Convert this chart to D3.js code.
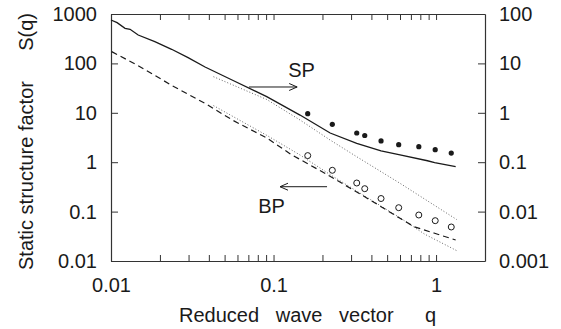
<!DOCTYPE html>
<html>
<head>
<meta charset="utf-8">
<script src="https://cdn.jsdelivr.net/npm/d3@7"></script>
<style>
  body { margin: 0; background: #fff; }
  svg { display: block; font-family: "Liberation Sans", Arial, Helvetica, sans-serif; }
</style>
</head>
<body>
<svg id="chart"></svg>
<script>
"use strict";

// data: q (reduced wave vector), S(q)
const spSim = [
  [0.01, 757], [0.0109, 667], [0.0122, 514], [0.0131, 490], [0.0147, 376],
  [0.0186, 275], [0.0236, 193], [0.0298, 131], [0.0379, 84.5], [0.0564, 45.1],
  [0.0908, 21.2], [0.1455, 9.0], [0.223, 3.9], [0.325, 2.41], [0.4586, 1.69],
  [0.60, 1.40], [0.885, 1.07], [0.98, 0.977], [1.32, 0.81]
];
const bpSim = [
  [0.0101, 173], [0.0147, 90], [0.0236, 36], [0.0379, 15.5], [0.0564, 7],
  [0.0908, 3.1], [0.1285, 1.43], [0.21, 0.58], [0.325, 0.25], [0.4586, 0.126],
  [0.60, 0.073], [0.733, 0.0494], [0.98, 0.0364], [1.32, 0.0266]
];
const spTheory = [
  [0.0427, 53.8], [0.0908, 18.6], [0.1455, 7.15], [0.223, 2.81],
  [0.325, 1.29], [0.60, 0.374], [1.34, 0.069]
];
const bpTheory = [
  [0.0427, 14], [0.0908, 3.5], [0.1455, 1.4], [0.223, 0.56],
  [0.325, 0.26], [0.60, 0.075], [0.85, 0.035], [1.34, 0.0162]
];
const qExp = [0.1623, 0.230, 0.325, 0.364, 0.4586, 0.589, 0.783, 0.988, 1.24];
const spExp = [9.6, 5.85, 3.9, 3.47, 2.69, 2.26, 2.06, 1.79, 1.53];
const bpExp = [1.36, 0.686, 0.379, 0.291, 0.184, 0.12, 0.0853, 0.0655, 0.0488];

// ticks
const xTicks = [0.01, 0.02, 0.03, 0.04, 0.05, 0.06, 0.07, 0.08, 0.09,
                0.1, 0.2, 0.3, 0.4, 0.5, 0.6, 0.7, 0.8, 0.9, 1];
const xLabelValues = [0.01, 0.1, 1];
const xLabels = ["0.01", "0.1", "1"];
const yTicks = [0.01, 0.1, 1, 10, 100, 1000];
const yLabels = ["0.01", "0.1", "1", "10", "100", "1000"];
const y2Ticks = [0.001, 0.01, 0.1, 1, 10, 100];
const y2Labels = ["0.001", "0.01", "0.1", "1", "10", "100"];

// annotations (data coords)
const annLabels = ["SP", "BP"];
const annTextPos = [[0.1486, 53], [0.0973, 0.0937]];
const annArrowFrom = [[0.0706, 33.3], [0.2134, 0.319]];
const annArrowTo = [[0.1397, 33.3], [0.1096, 0.319]];

const W = 561, H = 329;
const ink = "#1a1a1a";

const svg = d3.select("#chart").attr("width", W).attr("height", H);

const x = d3.scaleLog().domain([0.01, 2]).range([111, 485]);
const y = d3.scaleLog().domain([0.01, 1000]).range([261, 14]);
const y2 = d3.scaleLog().domain([0.001, 100]).range([261, 14]);

function styleAxis(g) {
  g.attr("font-family", null).attr("font-size", null);
  g.select(".domain").attr("stroke", "#333").attr("stroke-width", 1.2);
  g.selectAll(".tick line").attr("stroke", "#333").attr("stroke-width", 1);
  g.selectAll(".tick text").attr("fill", ink).style("font-size", "20px");
}

const xFmt = d => {
  const i = xLabelValues.findIndex(v => Math.abs(v - d) < 1e-9);
  return i < 0 ? "" : xLabels[i];
};

svg.append("g")
  .attr("transform", `translate(0,${y.range()[0]})`)
  .call(d3.axisBottom(x).tickValues(xTicks).tickSize(-6).tickSizeOuter(0)
    .tickPadding(17).tickFormat(xFmt))
  .call(styleAxis);

svg.append("g")
  .attr("transform", `translate(0,${y.range()[1]})`)
  .call(d3.axisTop(x).tickValues(xTicks).tickSize(-6).tickSizeOuter(0)
    .tickFormat(""))
  .call(styleAxis);

svg.append("g")
  .attr("transform", `translate(${x.range()[0]},0)`)
  .call(d3.axisLeft(y).tickValues(yTicks).tickSize(-7).tickSizeOuter(0)
    .tickPadding(14).tickFormat((d, i) => yLabels[i]))
  .call(styleAxis);

svg.append("g")
  .attr("transform", `translate(${x.range()[1]},0)`)
  .call(d3.axisRight(y2).tickValues(y2Ticks).tickSize(-7).tickSizeOuter(0)
    .tickPadding(14).tickFormat((d, i) => y2Labels[i]))
  .call(styleAxis);

// curves
const line = d3.line().x(d => x(d[0])).y(d => y(d[1]));

svg.append("path").datum(spTheory).attr("d", line)
  .attr("fill", "none").attr("stroke", "#666").attr("stroke-width", 1)
  .attr("stroke-dasharray", "1,2");
svg.append("path").datum(bpTheory).attr("d", line)
  .attr("fill", "none").attr("stroke", "#666").attr("stroke-width", 1)
  .attr("stroke-dasharray", "1,2");
svg.append("path").datum(spSim).attr("d", line)
  .attr("fill", "none").attr("stroke", ink).attr("stroke-width", 1.3);
svg.append("path").datum(bpSim).attr("d", line)
  .attr("fill", "none").attr("stroke", ink).attr("stroke-width", 1.2)
  .attr("stroke-dasharray", "6,4");

// experiment points
svg.selectAll(".sp-dot").data(qExp).enter().append("circle")
  .attr("cx", d => x(d)).attr("cy", (d, i) => y(spExp[i]))
  .attr("r", 2.6).attr("fill", ink);
svg.selectAll(".bp-dot").data(qExp).enter().append("circle")
  .attr("cx", d => x(d)).attr("cy", (d, i) => y(bpExp[i]))
  .attr("r", 3).attr("fill", "none").attr("stroke", ink).attr("stroke-width", 1);

// arrows and labels
annLabels.forEach((lab, i) => {
  const x0 = x(annArrowFrom[i][0]), y0 = y(annArrowFrom[i][1]);
  const x1 = x(annArrowTo[i][0]), y1 = y(annArrowTo[i][1]);
  const len = Math.hypot(x1 - x0, y1 - y0);
  const ux = (x1 - x0) / len, uy = (y1 - y0) / len;
  const hl = 8, hw = 3.5;
  const bx = x1 - ux * hl, by = y1 - uy * hl;
  svg.append("path")
    .attr("d", `M${x0},${y0}L${x1},${y1}M${bx - uy * hw},${by + ux * hw}L${x1},${y1}L${bx + uy * hw},${by - ux * hw}`)
    .attr("fill", "none").attr("stroke", ink).attr("stroke-width", 1);
  svg.append("text")
    .attr("x", x(annTextPos[i][0])).attr("y", y(annTextPos[i][1]))
    .attr("text-anchor", "middle").attr("fill", ink)
    .style("font-size", "20px").text(lab);
});

// axis titles
svg.append("text")
  .attr("transform", "translate(33,270) rotate(-90)")
  .attr("fill", ink).style("font-size", "20px")
  .text("Static structure factor");
svg.append("text")
  .attr("transform", "translate(33,13) rotate(-90)")
  .attr("text-anchor", "end").attr("fill", ink).style("font-size", "20px")
  .text("S(q)");
svg.append("text")
  .attr("x", 179).attr("y", 322)
  .attr("fill", ink).style("font-size", "20px").style("white-space", "pre")
  .text("Reduced   wave   vector");
svg.append("text")
  .attr("x", 425).attr("y", 322)
  .attr("fill", ink).style("font-size", "20px")
  .text("q");
</script>
</body>
</html>
